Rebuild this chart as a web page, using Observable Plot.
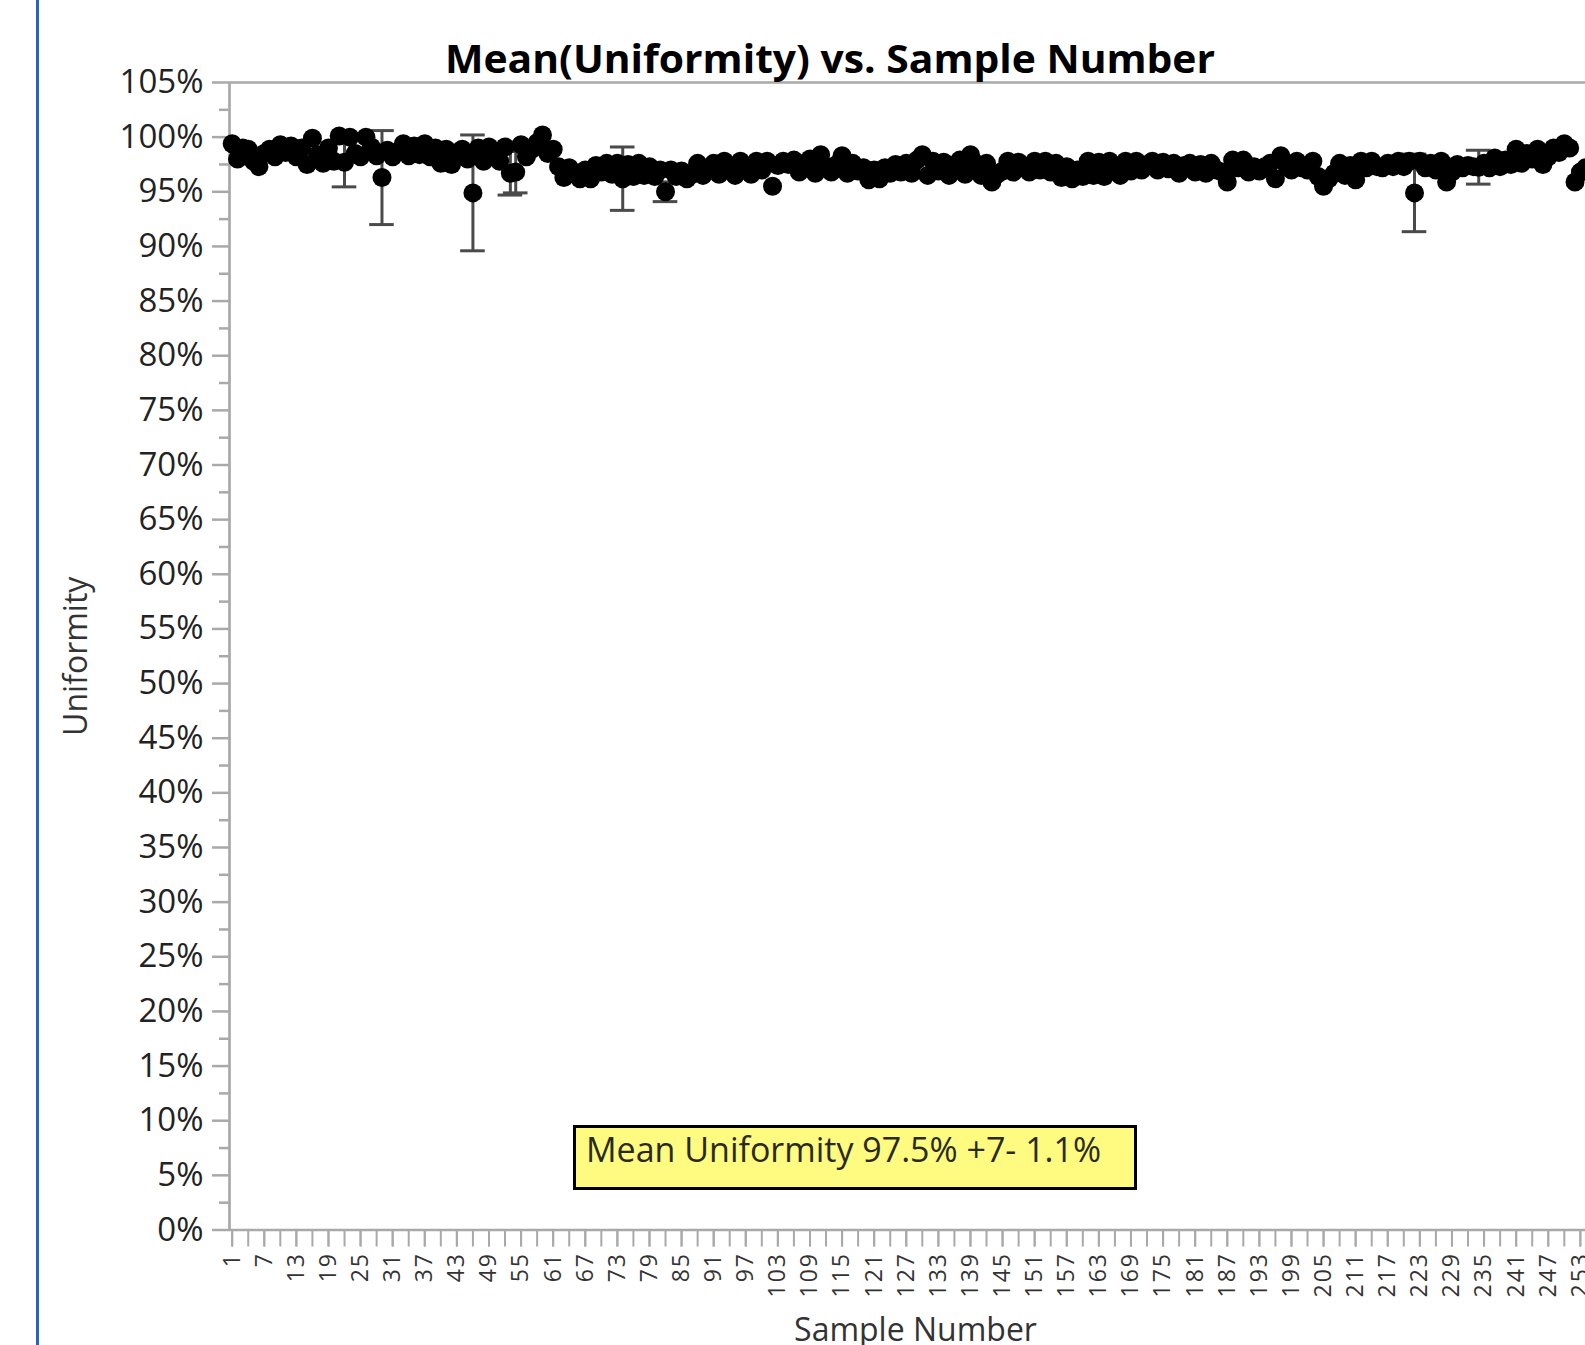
<!DOCTYPE html>
<html>
<head>
<meta charset="utf-8">
<script src="https://cdn.jsdelivr.net/npm/d3@7"></script>
<script src="https://cdn.jsdelivr.net/npm/@observablehq/plot@0.6"></script>
<style>
  html, body { margin: 0; padding: 0; background: #fff; width: 1585px; height: 1345px; overflow: hidden; }
  #page { position: relative; width: 1585px; height: 1345px; font-family: "Open Sans", sans-serif; }
  #chart { position: absolute; left: 0; top: 0; }
  #overlay { position: absolute; left: 0; top: 0; pointer-events: none; }
</style>
</head>
<body>
<div id="page">
  <div id="chart"></div>
  <svg id="overlay" width="1585" height="1345"></svg>
</div>
<script>
// ---------------- data ----------------
const chartTitle = "Mean(Uniformity) vs. Sample Number";
const yLabel = "Uniformity";
const xLabel = "Sample Number";
const noteText = "Mean Uniformity 97.5% +7- 1.1%";

// Mean uniformity (%) for sample numbers 1..254
const meanUniformity = [
  99.4, 98.0, 99.0, 98.9, 97.8, 97.3, 98.5, 98.9, 98.2, 99.3,
  98.6, 99.2, 98.2, 99.0, 97.5, 99.9, 98.4, 97.6, 99.0, 97.8,
  100.1, 97.7, 100.0, 98.5, 98.2, 100.0, 99.1, 98.3, 96.3, 98.8,
  98.2, 98.7, 99.4, 98.3, 99.2, 98.4, 99.4, 98.2, 99.0, 97.6,
  98.9, 97.5, 98.6, 98.9, 98.0, 94.9, 99.0, 97.8, 99.1, 98.5,
  97.8, 99.1, 96.7, 96.8, 99.3, 98.2, 98.9, 99.5, 100.2, 98.5,
  98.9, 97.3, 96.3, 97.2, 96.6, 96.2, 97.0, 96.2, 97.4, 96.8,
  97.6, 96.6, 97.6, 96.2, 97.5, 96.4, 97.6, 96.5, 97.3, 96.4,
  97.0, 95.0, 97.0, 96.4, 96.9, 96.2, 96.6, 97.6, 96.5, 97.2,
  97.6, 96.6, 97.8, 97.1, 96.5, 97.8, 97.3, 96.6, 97.8, 97.0,
  97.8, 95.5, 97.4, 97.8, 97.5, 97.9, 96.8, 97.6, 98.0, 96.7,
  98.4, 97.3, 96.8, 97.5, 98.3, 96.7, 97.6, 96.9, 97.2, 96.1,
  97.0, 96.2, 97.2, 96.7, 97.5, 96.8, 97.6, 96.7, 97.9, 98.4,
  96.5, 97.8, 96.9, 97.7, 96.5, 97.4, 97.9, 96.6, 98.4, 97.6,
  96.5, 97.6, 95.9, 96.6, 96.9, 97.8, 96.8, 97.7, 97.2, 96.8,
  97.8, 97.0, 97.8, 96.8, 97.6, 96.3, 97.3, 96.2, 97.0, 96.4,
  97.8, 96.5, 97.7, 96.4, 97.8, 97.1, 96.5, 97.8, 96.9, 97.8,
  97.0, 97.5, 97.8, 97.0, 97.7, 97.1, 97.6, 96.7, 97.4, 97.6,
  96.8, 97.5, 96.7, 97.6, 97.0, 96.8, 95.9, 97.9, 97.2, 97.9,
  96.8, 97.3, 96.9, 97.3, 97.6, 96.2, 98.3, 97.5, 97.0, 97.8,
  97.2, 97.0, 97.8, 96.4, 95.5, 96.2, 96.7, 97.6, 96.5, 97.4,
  96.1, 97.8, 97.2, 97.8, 97.3, 97.2, 97.6, 97.3, 97.8, 97.3,
  97.8, 94.9, 97.8, 97.2, 97.6, 97.0, 97.8, 95.9, 96.8, 97.5,
  97.2, 97.4, 97.3, 97.25, 97.6, 97.2, 98.1, 97.3, 97.9, 97.5,
  98.9, 97.6, 98.5, 98.0, 98.9, 97.5, 98.2, 99.0, 98.6, 99.4,
  99.0, 95.9, 96.8, 97.2
];

// Samples whose error bars stick out of the band, and their half-widths (%)
const errSamples = [22, 29, 46, 53, 54, 74, 82, 222, 234];
const errHalf    = [2.25, 4.3, 5.3, 2.0, 1.9, 2.9, 0.9, 3.55, 1.55];

const yTickLabels = [0, 5, 10, 15, 20, 25, 30, 35, 40, 45, 50, 55, 60, 65, 70, 75, 80, 85, 90, 95, 100, 105];
const xTickLabels = [1, 7, 13, 19, 25, 31, 37, 43, 49, 55, 61, 67, 73, 79, 85, 91, 97, 103, 109, 115, 121,
  127, 133, 139, 145, 151, 157, 163, 169, 175, 181, 187, 193, 199, 205, 211, 217, 223, 229, 235, 241, 247, 253];

// ---------------- chart ----------------
const rows = meanUniformity.map((v, i) => ({sample: i + 1, mean: v}));
const errRows = errSamples.map((s, i) => ({
  sample: s,
  lo: meanUniformity[s - 1] - errHalf[i],
  hi: meanUniformity[s - 1] + errHalf[i]
}));

const axisGray = "#a9a9a9";
const labelInk = "#222";
const capHalf = 2.3; // in sample units

const yMinor = d3.range(2.5, 105, 5);
const xMinor = d3.range(1, 255, 3);

const chart = Plot.plot({
  width: 1585,
  height: 1345,
  marginLeft: 229,
  marginRight: 0,
  marginTop: 82,
  marginBottom: 115.5,
  x: {type: "linear", domain: [0.5, 253.96]},
  y: {type: "linear", domain: [0, 105]},
  style: {fontFamily: "'Open Sans', sans-serif", background: "white", overflow: "hidden"},
  marks: [
    // frame lines
    Plot.ruleY([0, 105], {stroke: axisGray, strokeWidth: 2.5}),
    Plot.ruleX([0.5], {stroke: axisGray, strokeWidth: 2.7}),
    // y axis
    Plot.axisY({ticks: yMinor, tickSize: 10, text: null, stroke: axisGray, strokeWidth: 2.5, label: null}),
    Plot.axisY({ticks: yTickLabels, tickSize: 17, tickPadding: 9, tickFormat: d => d + "%",
      fontSize: 33, stroke: axisGray, strokeWidth: 2.5, fill: labelInk, label: null}),
    // x axis
    Plot.axisX({ticks: xMinor, tickSize: 17, text: null, stroke: axisGray, strokeWidth: 2, label: null}),
    Plot.axisX({ticks: xTickLabels, tickSize: 17, tickPadding: 5, tickRotate: -90, tickFormat: d => String(d),
      fontSize: 23, stroke: axisGray, strokeWidth: 2, fill: "#333", label: null}),
    // axis titles
    Plot.text([yLabel], {frameAnchor: "left", dx: -153, rotate: -90, fontSize: 32, fill: "#333",
      lineAnchor: "middle", textAnchor: "middle"}),
    Plot.text([xLabel], {frameAnchor: "bottom", dx: 8, dy: 88, fontSize: 32, fill: "#333",
      lineAnchor: "top", textAnchor: "middle"}),
    // error bars
    Plot.ruleX(errRows, {x: "sample", y1: "lo", y2: "hi", stroke: "#4a4a4a", strokeWidth: 3}),
    Plot.ruleY(errRows, {y: "lo", x1: d => d.sample - capHalf, x2: d => d.sample + capHalf, stroke: "#4a4a4a", strokeWidth: 3}),
    Plot.ruleY(errRows, {y: "hi", x1: d => d.sample - capHalf, x2: d => d.sample + capHalf, stroke: "#4a4a4a", strokeWidth: 3}),
    // means
    Plot.dot(rows, {x: "sample", y: "mean", r: 9.5, fill: "black", stroke: "none"})
  ]
});
document.getElementById("chart").appendChild(chart);
chart.querySelectorAll('[aria-label="x-axis tick label"] text').forEach(t => t.style.letterSpacing = "2px");

// ---------------- overlay: window edge, title, note ----------------
const ov = d3.select("#overlay");
ov.append("rect").attr("x", 36).attr("y", 0).attr("width", 3).attr("height", 1345).attr("fill", "#2566c2");
ov.append("text")
  .attr("x", 830).attr("y", 73)
  .attr("text-anchor", "middle")
  .attr("font-family", "'Open Sans', sans-serif")
  .attr("font-weight", 700)
  .attr("font-size", 40)
  .attr("textLength", 770)
  .attr("lengthAdjust", "spacingAndGlyphs")
  .attr("fill", "#000")
  .text(chartTitle);
ov.append("rect")
  .attr("x", 574.5).attr("y", 1126.5).attr("width", 561).attr("height", 62)
  .attr("fill", "#fffa80").attr("stroke", "#000").attr("stroke-width", 3);
ov.append("text")
  .attr("x", 586).attr("y", 1162)
  .attr("font-family", "'Open Sans', sans-serif")
  .attr("font-size", 34)
  .attr("fill", "#2a2a1a")
  .text(noteText);
</script>
</body>
</html>
